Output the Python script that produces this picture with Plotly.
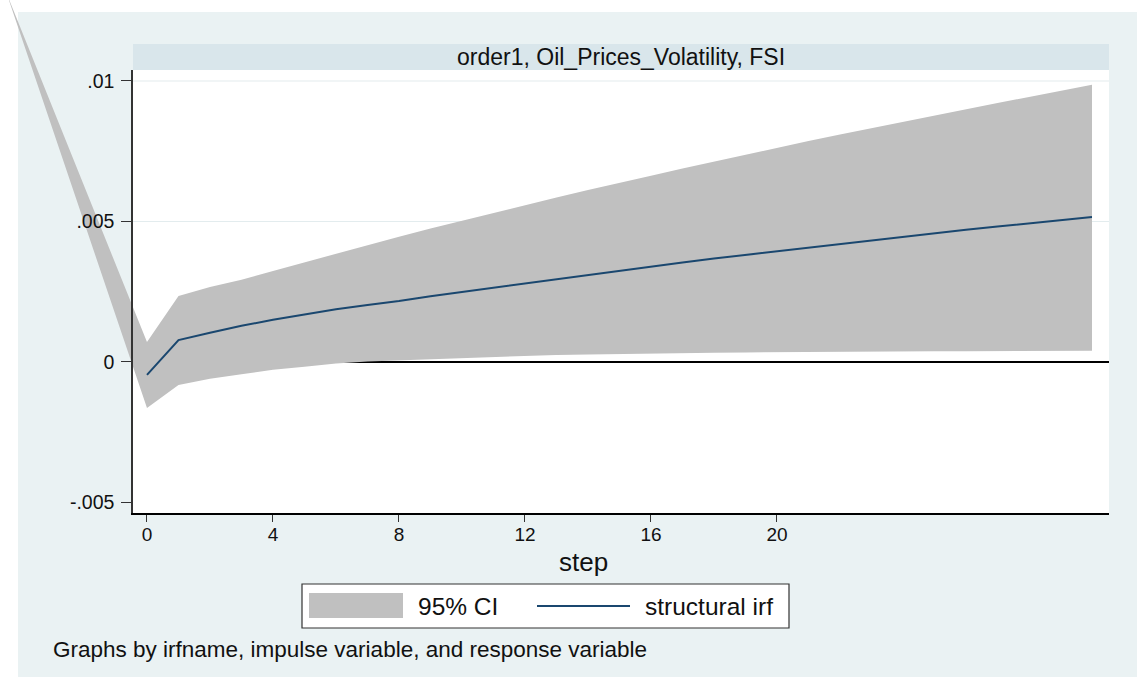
import plotly.graph_objects as go

W, H = 1137, 678

# ---------------- data ----------------
steps = list(range(31))
irf = [-0.00046, 0.00078, 0.00104, 0.00129, 0.00150, 0.00170, 0.00188, 0.00203,
       0.00217, 0.00234, 0.00249, 0.00265, 0.00280, 0.00296, 0.00310, 0.00325,
       0.00340, 0.00354, 0.00368, 0.00381, 0.00395, 0.00408, 0.00421, 0.00434,
       0.00446, 0.00459, 0.00471, 0.00482, 0.00494, 0.00505, 0.00516]
ci_lower = [-0.00164, -0.00082, -0.00060, -0.00044, -0.00028, -0.00017, -0.00005, 0.00002,
            0.00006, 0.00011, 0.00015, 0.00019, 0.00022, 0.00025, 0.00027, 0.00029,
            0.00031, 0.00032, 0.00033, 0.00034, 0.00035, 0.00036, 0.00036, 0.00037,
            0.00037, 0.00038, 0.00038, 0.00038, 0.00039, 0.00039, 0.00040]
ci_upper = [0.00071, 0.00235, 0.00267, 0.00293, 0.00324, 0.00355, 0.00386, 0.00416,
            0.00446, 0.00475, 0.00503, 0.00531, 0.00558, 0.00585, 0.00612, 0.00638,
            0.00663, 0.00689, 0.00714, 0.00738, 0.00762, 0.00786, 0.00810, 0.00833,
            0.00856, 0.00878, 0.00900, 0.00922, 0.00943, 0.00964, 0.00987]
# stray vertex of the CI polygon (drawn outside the plot region in the original)
wedge_step = -4.45
wedge_value = 0.0131

x_tickvals = [0, 4, 8, 12, 16, 20]
x_ticktext = ["0", "4", "8", "12", "16", "20"]
y_tickvals = [-0.005, 0, 0.005, 0.01]
y_ticktext = ["-.005", "0", ".005", ".01"]
y_grid_vals = [0.005, 0.01]

panel_title = "order1, Oil_Prices_Volatility, FSI"
x_title = "step"
legend_labels = ["95% CI", "structural irf"]
note_text = "Graphs by irfname, impulse variable, and response variable"

# ---------------- geometry / style ----------------
FONT = "Liberation Sans, Arial, sans-serif"
BAND = "#C0C0C0"
NAVY = "#1A476F"
OUTER_BG = "#EAF2F3"
STRIP_BG = "#D9E6EB"
GRID = "#E3ECEE"

PL, PR, PT, PB = 133, 1109, 70, 513
xr = [-0.444, 30.54]
yr = [-0.005374, 0.010391]


def px(x):
    return x / W


def py(y):
    return 1 - y / H


dom_x = [px(PL), px(PR)]
dom_y = [py(PB), py(PT)]


def full_range(r, d):
    span = (r[1] - r[0]) / (d[1] - d[0])
    r0 = r[0] - d[0] * span
    return [r0, r0 + span]


fig = go.Figure()

# CI band (on full-figure axes sharing the same data scale, so it is not clipped)
band_x = [wedge_step] + steps + steps[::-1]
band_y = [wedge_value] + ci_lower + ci_upper[::-1]
fig.add_trace(go.Scatter(x=band_x, y=band_y, mode="lines", fill="toself",
                         fillcolor=BAND, line=dict(width=0, color=BAND),
                         hoverinfo="skip", showlegend=False,
                         xaxis="x", yaxis="y"))

# structural irf
fig.add_trace(go.Scatter(x=steps, y=irf, mode="lines",
                         line=dict(color=NAVY, width=2),
                         showlegend=False, xaxis="x2", yaxis="y2"))

shapes = [
    dict(type="rect", xref="paper", yref="paper", x0=px(18), x1=px(1137), y0=py(677), y1=py(12),
         fillcolor=OUTER_BG, line=dict(width=0), layer="below"),
    dict(type="rect", xref="paper", yref="paper", x0=px(PL), x1=px(PR), y0=py(PT), y1=py(44),
         fillcolor=STRIP_BG, line=dict(width=0), layer="below"),
    dict(type="rect", xref="paper", yref="paper", x0=px(PL), x1=px(PR), y0=py(PB), y1=py(PT),
         fillcolor="white", line=dict(width=0), layer="below"),
]
for v in y_grid_vals:
    shapes.append(dict(type="line", xref="paper", yref="y2", x0=dom_x[0], x1=dom_x[1], y0=v, y1=v,
                       line=dict(color=GRID, width=1.2), layer="below"))
shapes.append(dict(type="line", xref="paper", yref="y2", x0=dom_x[0], x1=dom_x[1], y0=0, y1=0,
                   line=dict(color="black", width=2), layer="below"))

# legend box
shapes += [
    dict(type="rect", xref="paper", yref="paper", x0=px(302), x1=px(789), y0=py(628), y1=py(584),
         fillcolor="white", line=dict(color="#333", width=1.2), layer="above"),
    dict(type="rect", xref="paper", yref="paper", x0=px(309), x1=px(403), y0=py(618), y1=py(593),
         fillcolor=BAND, line=dict(width=0), layer="above"),
    dict(type="line", xref="paper", yref="paper", x0=px(537), x1=px(630), y0=py(606), y1=py(606),
         line=dict(color=NAVY, width=2), layer="above"),
]

annotations = [
    dict(text=panel_title, x=px((PL + PR) / 2), y=py(57), xref="paper", yref="paper",
         xanchor="center", yanchor="middle", showarrow=False, font=dict(size=23, color="#111")),
    dict(text=x_title, x=px(583), y=py(562), xref="paper", yref="paper",
         xanchor="center", yanchor="middle", showarrow=False, font=dict(size=26, color="#111")),
    dict(text=legend_labels[0], x=px(416), y=py(606), xref="paper", yref="paper",
         xanchor="left", yanchor="middle", showarrow=False, font=dict(size=24.5, color="#111")),
    dict(text=legend_labels[1], x=px(643), y=py(606), xref="paper", yref="paper",
         xanchor="left", yanchor="middle", showarrow=False, font=dict(size=24.5, color="#111")),
    dict(text=note_text, x=px(51), y=py(649), xref="paper", yref="paper",
         xanchor="left", yanchor="middle", showarrow=False, font=dict(size=22.5, color="#111")),
]

fig.update_layout(
    width=W, height=H,
    margin=dict(l=0, r=0, t=0, b=0, pad=0),
    paper_bgcolor="white",
    plot_bgcolor="rgba(0,0,0,0)",
    font=dict(family=FONT, color="#111"),
    showlegend=False,
    xaxis=dict(domain=[0, 1], range=full_range(xr, dom_x),
               visible=False, fixedrange=True, anchor="y"),
    yaxis=dict(domain=[0, 1], range=full_range(yr, dom_y), visible=False, fixedrange=True, anchor="x"),
    xaxis2=dict(domain=dom_x, range=xr, anchor="y2", tickvals=x_tickvals, ticktext=x_ticktext,
                ticks="outside", ticklen=7, tickwidth=1.2, tickcolor="#333",
                showline=True, linecolor="black", linewidth=1.5,
                showgrid=False, zeroline=False, tickfont=dict(size=19, color="#111"),
                ticklabelstandoff=-4),
    yaxis2=dict(domain=dom_y, range=yr, anchor="x2", tickvals=y_tickvals, ticktext=y_ticktext,
                ticks="outside", ticklen=10, tickwidth=1.2, tickcolor="#333",
                showline=True, linecolor="#333", linewidth=1.5,
                showgrid=False, zeroline=False, tickfont=dict(size=19.5, color="#111"),
                ticklabelstandoff=3),
    shapes=shapes,
    annotations=annotations,
)

fig.write_html("out.html")
